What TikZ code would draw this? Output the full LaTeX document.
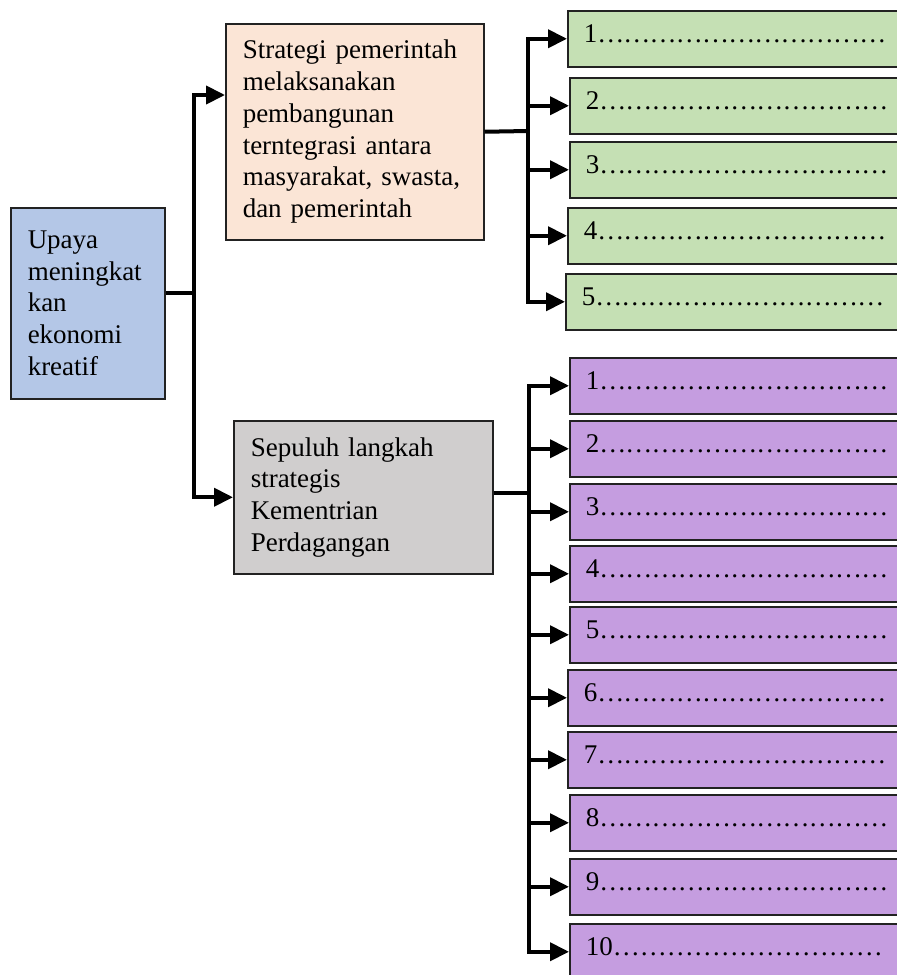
\documentclass[tikz,border=0pt]{standalone}
\usepackage{fontspec}
\setmainfont{Liberation Serif}
\usetikzlibrary{arrows.meta}
\definecolor{FigureBlue}{HTML}{B4C7E7}
\definecolor{FigurePeach}{HTML}{FBE5D6}
\definecolor{FigureGrey}{HTML}{D0CECE}
\definecolor{FigureGreen}{HTML}{C5E0B4}
\definecolor{FigurePurple}{HTML}{C59DE0}
\definecolor{FigureEdge}{HTML}{222222}
\newcommand\ellip{…\kern-0.8pt}
\newcommand\slotdots{\ellip\ellip\ellip\ellip\ellip\ellip\ellip\ellip\ellip\ellip\ellip}

\begin{document}
\begin{tikzpicture}[x=1pt,y=-1pt,
  box/.style={draw=FigureEdge,line width=1.5pt,anchor=north west,align=left,inner xsep=17pt,inner ysep=0pt,font=\fontsize{27}{31.7}\selectfont},
  slot/.style={box,text width=330pt,inner xsep=16pt,inner ysep=14pt,text height=18pt,text depth=10pt},
  link/.style={line width=4pt},
  arr/.style={link,-{Triangle[length=19pt,width=18pt]}}]
  \useasboundingbox (0,0) rectangle (897,975);
  \node[box,fill=FigureBlue,text width=120pt,minimum height=191pt] (upaya) at (10,207) {Upaya\\meningkat\\kan\\ekonomi\\kreatif};
  \node[box,fill=FigurePeach,text width=224pt,minimum height=216pt] (pemerintah) at (225,23) {Strategi pemerintah\\melaksanakan\\pembangunan\\terntegrasi antara\\masyarakat, swasta,\\dan pemerintah};
  \node[box,fill=FigureGrey,text width=225pt,minimum height=153pt] (kemendag) at (233,420) {Sepuluh langkah\\strategis\\Kementrian\\Perdagangan};
  \node[slot,fill=FigureGreen] (g1) at (567,10) {1\slotdots}; \node[slot,fill=FigureGreen] (g2) at (569,77) {2\slotdots};
  \node[slot,fill=FigureGreen] (g3) at (569,141) {3\slotdots}; \node[slot,fill=FigureGreen] (g4) at (567,207) {4\slotdots};
  \node[slot,fill=FigureGreen] (g5) at (565,273) {5\slotdots};
  \node[slot,fill=FigurePurple] (p1) at (569,357) {1\slotdots}; \node[slot,fill=FigurePurple] (p2) at (569,420) {2\slotdots};
  \node[slot,fill=FigurePurple] (p3) at (569,483) {3\slotdots}; \node[slot,fill=FigurePurple] (p4) at (569,545) {4\slotdots};
  \node[slot,fill=FigurePurple] (p5) at (569,606) {5\slotdots}; \node[slot,fill=FigurePurple] (p6) at (567,669) {6\slotdots};
  \node[slot,fill=FigurePurple] (p7) at (567,731) {7\slotdots}; \node[slot,fill=FigurePurple] (p8) at (569,794) {8\slotdots};
  \node[slot,fill=FigurePurple] (p9) at (569,858) {9\slotdots}; \node[slot,fill=FigurePurple] (p10) at (569,923) {10…………………………};
  \coordinate (busM) at (194,293); \coordinate (inA) at (225,95); \coordinate (busA) at (528,131); \coordinate (busB) at (529,493);
  \draw[link] (upaya.east |- busM) -- (busM); \draw[arr] (busM) |- (inA); \draw[arr] (busM) |- (kemendag.west);
  \draw[link] (kemendag.east |- busB) -- (busB); \draw[link] (pemerintah.east) -- (busA);
  \draw[arr] (busA) |- (g1.west); \draw[arr] (busA) |- (g2.west); \draw[arr] (busA) |- (g3.west); \draw[arr] (busA) |- (g4.west); \draw[arr] (busA) |- (g5.west);
  \draw[arr] (busB) |- (p1.west); \draw[arr] (busB) |- (p2.west); \draw[arr] (busB) |- (p3.west); \draw[arr] (busB) |- (p4.west); \draw[arr] (busB) |- (p5.west);
  \draw[arr] (busB) |- (p6.west); \draw[arr] (busB) |- (p7.west); \draw[arr] (busB) |- (p8.west); \draw[arr] (busB) |- (p9.west); \draw[arr] (busB) |- (p10.west);
\end{tikzpicture}
\end{document}
